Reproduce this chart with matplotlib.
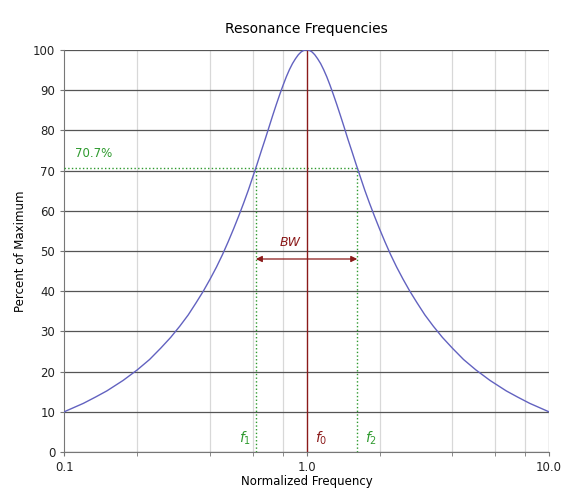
import matplotlib.pyplot as plt
from matplotlib.ticker import FixedLocator, NullFormatter

# Curve values (normalized frequency vs percent of max)
freq = [0.1, 0.11, 0.12, 0.135, 0.15, 0.175, 0.2, 0.225, 0.25, 0.275, 0.3,
        0.325, 0.35, 0.375, 0.4, 0.425, 0.45, 0.475, 0.5, 0.525, 0.55, 0.575,
        0.6, 0.625, 0.65, 0.675, 0.7, 0.725, 0.75, 0.775, 0.8, 0.825, 0.85,
        0.875, 0.9, 0.925, 0.95, 0.975, 1.0,
        1.026, 1.053, 1.081, 1.111, 1.143, 1.176, 1.212, 1.25, 1.29, 1.333,
        1.379, 1.429, 1.481, 1.538, 1.6, 1.667, 1.739, 1.818, 1.905, 2.0,
        2.105, 2.222, 2.353, 2.5, 2.667, 2.857, 3.077, 3.333, 3.636, 4.0,
        4.444, 5.0, 5.714, 6.667, 7.407, 8.333, 9.091, 10.0]
percent = [10.0, 11.1, 12.1, 13.7, 15.2, 17.8, 20.4, 23.0, 25.8, 28.5, 31.3,
           34.1, 37.1, 40.0, 43.0, 46.0, 49.1, 52.3, 55.5, 58.7, 61.9, 65.1,
           68.4, 71.6, 74.8, 77.8, 80.8, 83.7, 86.4, 88.9, 91.2, 93.3, 95.1,
           96.6, 97.8, 98.8, 99.5, 99.9, 100.0,
           99.9, 99.5, 98.8, 97.8, 96.6, 95.1, 93.3, 91.2, 88.9, 86.4,
           83.7, 80.8, 77.8, 74.8, 71.6, 68.4, 65.1, 61.9, 58.7, 55.5,
           52.3, 49.1, 46.0, 43.0, 40.0, 37.1, 34.1, 31.3, 28.5, 25.8,
           23.0, 20.4, 17.8, 15.2, 13.7, 12.1, 11.1, 10.0]

f1 = 0.618
f0 = 1.0
f2 = 1.618
half_power = 70.7

x_ticks = [0.1, 1.0, 10.0]
x_tick_labels = ["0.1", "1.0", "10.0"]
x_minor = [0.2, 0.4, 0.6, 0.8, 2, 4, 6, 8]
y_ticks = list(range(0, 101, 10))

green = "#2e9a2e"
darkred = "#8b1a1a"

plt.rcParams["mathtext.fontset"] = "dejavusans"

fig = plt.figure(figsize=(5.63, 4.94), dpi=100)
ax = fig.add_axes([0.114, 0.085, 0.861, 0.814])

ax.set_xscale("log")
ax.set_xlim(0.1, 10)
ax.set_ylim(0, 100)

# grid
ax.set_yticks(y_ticks)
ax.yaxis.grid(True, color="#555555", linewidth=0.9)
ax.xaxis.set_minor_locator(FixedLocator(x_minor))
ax.xaxis.set_minor_formatter(NullFormatter())
ax.xaxis.grid(True, which="minor", color="#d8d8d8", linewidth=0.9)
ax.set_xticks(x_ticks)
ax.set_xticklabels(x_tick_labels)
ax.axvline(10.0, color="#888888", linewidth=0.9)

for s in ["top", "right"]:
    ax.spines[s].set_visible(False)
for s in ["left", "bottom"]:
    ax.spines[s].set_color("#777777")
ax.tick_params(axis="both", which="both", colors="#777777", labelcolor="#222222",
               labelsize=8.5, length=3)

# curve
ax.plot(freq, percent, color="#6262c0", linewidth=1.0, zorder=4)

# 70.7% markers
ax.plot([0.1, f2], [half_power, half_power], color=green, linestyle=":", linewidth=1.0, zorder=3)
ax.plot([f1, f1], [0, half_power], color=green, linestyle=":", linewidth=1.0, zorder=3)
ax.plot([f2, f2], [0, half_power], color=green, linestyle=":", linewidth=1.0, zorder=3)
ax.text(0.111, 72.5, "70.7%", color=green, fontsize=8.5, ha="left", va="bottom")

# f0 line
ax.plot([f0, f0], [0, 100], color=darkred, linewidth=1.0, zorder=3)

# bandwidth arrow
ax.annotate("", xy=(f1, 48), xytext=(f2, 48),
            arrowprops=dict(arrowstyle="<|-|>", color=darkred, lw=0.9,
                            mutation_scale=9, shrinkA=0, shrinkB=0))
ax.text(0.855, 50.5, "BW", color=darkred, fontsize=9, style="italic",
        ha="center", va="bottom")

# frequency labels
ax.text(0.557, 3.5, "$f_1$", color=green, fontsize=10, ha="center", va="center")
ax.text(1.15, 3.5, "$f_0$", color=darkred, fontsize=10, ha="center", va="center")
ax.text(1.85, 3.5, "$f_2$", color=green, fontsize=10, ha="center", va="center")

ax.set_title("Resonance Frequencies", fontsize=10, pad=12)
ax.set_xlabel("Normalized Frequency", fontsize=8.5, labelpad=1)
ax.set_ylabel("Percent of Maximum", fontsize=8.5, labelpad=4)

plt.savefig("out.png", dpi=100)
